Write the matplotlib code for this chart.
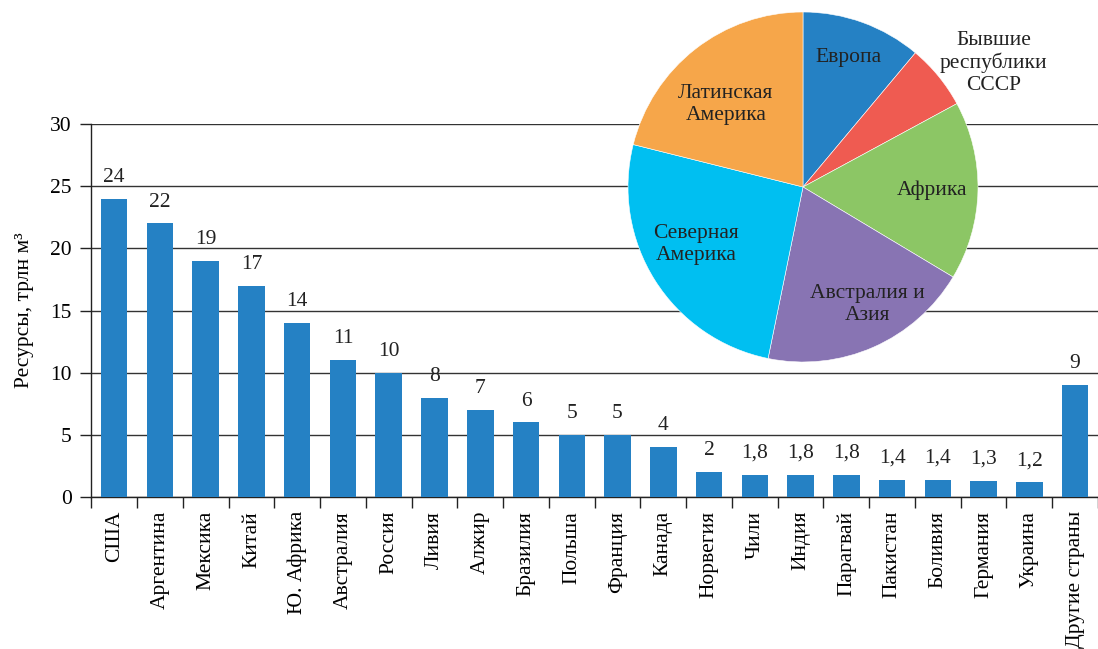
import matplotlib
matplotlib.use("Agg")
import matplotlib.pyplot as plt

plt.rcParams['font.family'] = ['Liberation Serif', 'DejaVu Serif']

countries = ["США", "Аргентина", "Мексика", "Китай", "Ю. Африка", "Австралия",
             "Россия", "Ливия", "Алжир", "Бразилия", "Польша", "Франция",
             "Канада", "Норвегия", "Чили", "Индия", "Парагвай", "Пакистан",
             "Боливия", "Германия", "Украина", "Другие страны"]
resources = [24, 22, 19, 17, 14, 11, 10, 8, 7, 6, 5, 5, 4, 2, 1.8, 1.8, 1.8,
             1.4, 1.4, 1.3, 1.2, 9]
yticks = [0, 5, 10, 15, 20, 25, 30]

regions = ["Европа", "Бывшие\nреспублики\nСССР", "Африка", "Австралия и\nАзия",
           "Северная\nАмерика", "Латинская\nАмерика"]
shares = [11.1, 6.0, 16.5, 19.6, 25.7, 21.1]
pie_colors = ["#2581C4", "#EF5B51", "#8CC665", "#8874B3", "#00BFF1", "#F6A64A"]
# label anchor positions in pie units (annotation placement)
label_pos = [(0.26, 0.74), (1.09, 0.71), (0.74, -0.02), (0.37, -0.67),
             (-0.61, -0.33), (-0.44, 0.47)]

FS = 15.5
W, H = 1098, 649
fig = plt.figure(figsize=(W / 100, H / 100), dpi=100)

left, right, bottom, top = 91.3, 1098, 497, 124
ax = fig.add_axes([left / W, 1 - bottom / H, (right - left) / W, (bottom - top) / H])
step = 46.0
x = list(range(len(countries)))
bars = ax.bar(x, resources, width=0.58, color="#2581C4", zorder=3)
ax.set_xlim(-0.5, -0.5 + (right - left) / step)
ax.set_ylim(0, 30)
ax.set_yticks(yticks)
ax.set_yticklabels([str(t) for t in yticks], fontsize=FS)
ax.yaxis.grid(True, color="#333333", linewidth=1.0, zorder=0)
ax.set_axisbelow(True)

ax.set_xticks(x)
ax.set_xticklabels(countries, rotation=90, fontsize=FS)
ax.tick_params(axis='x', length=0, pad=10)
ax.set_xticks([i - 0.5 for i in range(len(countries) + 1)], minor=True)
ax.tick_params(axis='x', which='minor', length=8, width=1, direction='out', color="#222222")
ax.tick_params(axis='y', length=8, width=1, direction='out', color="#222222", pad=6)

for s in ["top", "right"]:
    ax.spines[s].set_visible(False)
for s in ["left", "bottom"]:
    ax.spines[s].set_color("#222222")
    ax.spines[s].set_linewidth(1.0)

labels = [str(v).replace(".", ",") if isinstance(v, float) else str(v) for v in resources]
ax.bar_label(bars, labels=labels, padding=8.5, fontsize=FS, color="#222222")

ax.set_ylabel("Ресурсы, трлн м³", fontsize=FS, labelpad=12)

# pie inset
cx, cy, r = 803, 187, 175
pax = fig.add_axes([(cx - r) / W, 1 - (cy + r) / H, 2 * r / W, 2 * r / H])
pax.pie(shares, colors=pie_colors, startangle=90, counterclock=False,
        wedgeprops=dict(edgecolor="white", linewidth=0.4))
pax.set_xlim(-1, 1)
pax.set_ylim(-1, 1)
pax.set_aspect('equal')
pax.axis('off')
for lab, (lx, ly) in zip(regions, label_pos):
    pax.text(lx, ly, lab, ha='center', va='center', fontsize=FS, color="#222222",
             linespacing=1.2)

fig.savefig("out.png", dpi=100)
